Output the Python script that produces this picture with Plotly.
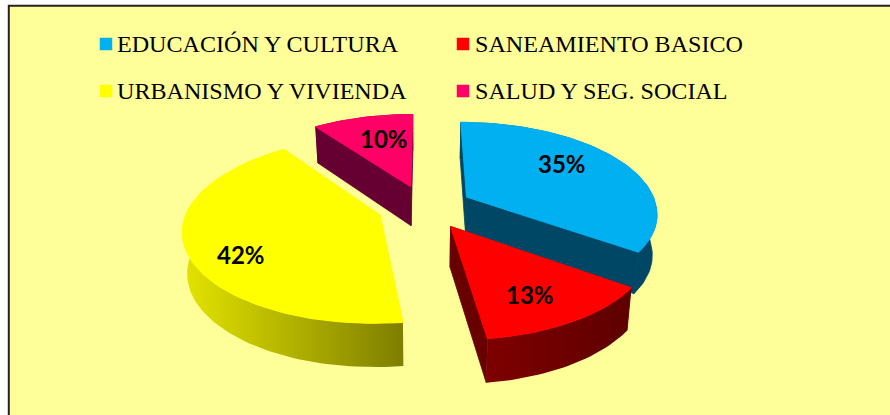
import math
import plotly.graph_objects as go

categories = ["EDUCACIÓN Y CULTURA", "SANEAMIENTO BASICO", "URBANISMO Y VIVIENDA", "SALUD Y SEG. SOCIAL"]
values = [35, 13, 42, 10]
top_colors = ["#00B0F0", "#FF0000", "#FFFF00", "#FF0066"]
wall_colors = ["#004766", "#680000", "#C8C800", "#660033"]

# --- projection of the exploded tilted pie (layout constants) ---
W, H = 890, 415
CX, CY = 425, 207
RX, RY = 190, 89.5
PERSP = 0.16
EXPLODE = 0.25
BG = "#FFFF99"
BORDER = "#222222"


def project(X, Y, low=False):
    den = 1 + PERSP * Y
    front = max(0.0, -Y)
    x = CX + RX * X / den + 2.5 * front - 1.5 * max(0.0, -X)
    y = CY - RY * Y / den - 2 * front
    if low:
        x = CX + (x - CX) * 0.98
        y = y + 40 - 3.5 * Y
    return x, y


def slice_points(start, end):
    """World-plane rim points and apex for a slice given fractions of the whole."""
    t0, t1 = start * 2 * math.pi, end * 2 * math.pi
    mid = (t0 + t1) / 2
    ax, ay = EXPLODE * math.sin(mid), EXPLODE * math.cos(mid)
    n = max(8, int((end - start) * 240))
    rim = [(ax + math.sin(t0 + (t1 - t0) * i / n), ay + math.cos(t0 + (t1 - t0) * i / n)) for i in range(n + 1)]
    return (ax, ay), rim


def poly(fig, pts, color=None, gradient=None, seam=0.0):
    xs = [p[0] for p in pts] + [pts[0][0]]
    ys = [p[1] for p in pts] + [pts[0][1]]
    kw = dict(fillgradient=gradient) if gradient else dict(fillcolor=color)
    line = dict(width=seam, color=color) if seam else dict(width=0)
    fig.add_trace(go.Scatter(x=xs, y=ys, mode="lines", fill="toself", line=line,
                             hoverinfo="skip", showlegend=False, **kw))


fig = go.Figure()

total = sum(values)
fractions, acc = [], 0
for v in values:
    fractions.append((acc / total, (acc + v) / total))
    acc += v

for idx in [3, 0, 2, 1]:  # back to front
    apex, rim = slice_points(*fractions[idx])
    wall = wall_colors[idx]
    if idx != 2:
        for end_pt in (rim[0], rim[-1]):
            poly(fig, [project(*apex), project(*end_pt), project(*end_pt, low=True), project(*apex, low=True)],
                 color=wall, seam=0.8)
    outer = [project(*p) for p in rim] + [project(*p, low=True) for p in reversed(rim)]
    if idx == 2:
        poly(fig, outer, gradient=dict(type="horizontal",
                                       colorscale=[[0, "#E4E400"], [1, "#7E7E00"]]))
    elif idx == 1:
        poly(fig, outer, gradient=dict(type="horizontal",
                                       colorscale=[[0, "#7E0000"], [1, "#5E0000"]]))
    else:
        poly(fig, outer, color=wall, seam=0.8)
    poly(fig, [project(*apex)] + [project(*p) for p in rim], color=top_colors[idx], seam=1.2)

# legend
legend_x = [106, 463]
legend_y = [44, 91]
legend_text_x = [115, 473]
annotations = []
for i, cat in enumerate(categories):
    lx, ly = legend_x[i % 2], legend_y[i // 2]
    fig.add_trace(go.Scatter(x=[lx], y=[ly], mode="markers", hoverinfo="skip", showlegend=False,
                             marker=dict(symbol="square", size=12.5, color=top_colors[i], line=dict(width=0))))
    annotations.append(dict(x=legend_text_x[i % 2], y=ly, text=cat, showarrow=False, xanchor="left", yanchor="middle",
                            font=dict(family="Liberation Serif", size=24.1, color="#000000")))

# percentage labels
label_pos = [(562, 163), (530, 294), (241, 254), (384, 138)]
for v, (lx, ly) in zip(values, label_pos):
    annotations.append(dict(x=lx, y=ly, text=f"{v}%", showarrow=False, xanchor="center", yanchor="middle",
                            font=dict(family="Lato", size=24, color="#000000", weight="bold")))

fig.update_layout(
    width=W, height=H, margin=dict(l=0, r=0, t=0, b=0),
    paper_bgcolor="#FFFFFF", plot_bgcolor="#FFFFFF",
    xaxis=dict(range=[0, W], visible=False, fixedrange=True),
    yaxis=dict(range=[H, 0], visible=False, fixedrange=True),
    annotations=annotations,
    shapes=[dict(type="rect", xref="x", yref="y", x0=8.8, y0=5.8, x1=W + 20, y1=H + 20,
                 fillcolor=BG, line=dict(color=BORDER, width=2), layer="below")],
)

fig.write_html("out.html", config={"displayModeBar": False},
               post_script="document.body.style.margin='0';document.body.style.overflow='hidden';")
